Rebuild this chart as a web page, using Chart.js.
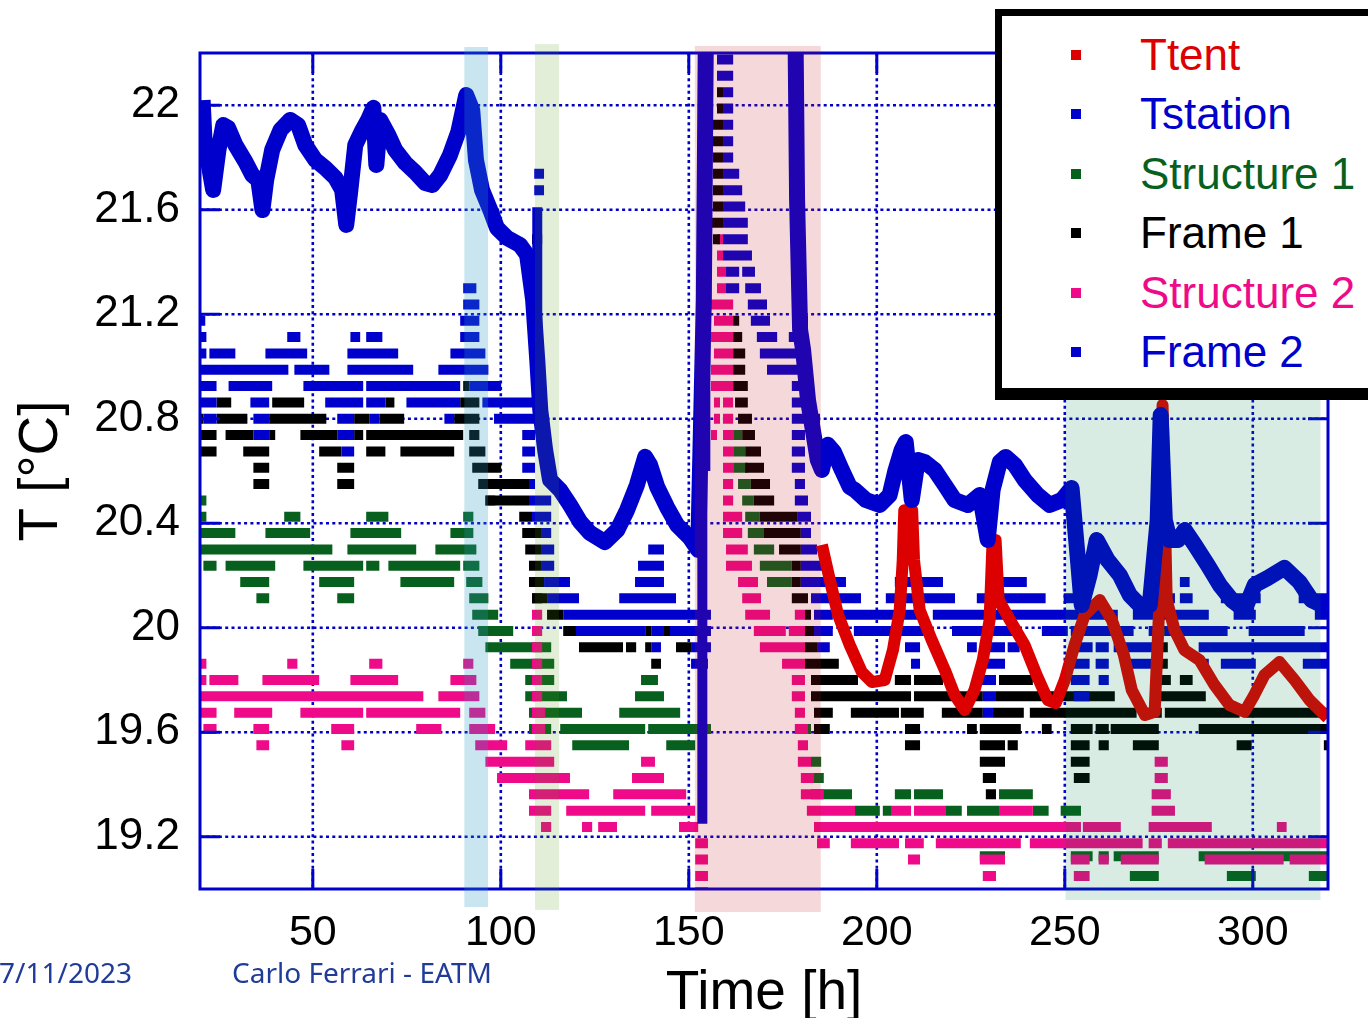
<!DOCTYPE html>
<html>
<head>
<meta charset="utf-8">
<title>T [°C] vs Time [h]</title>
<script src="https://cdn.jsdelivr.net/npm/chart.js@4.4.1/dist/chart.umd.min.js"></script>
<style>
  html, body { margin: 0; padding: 0; background: #fff; overflow: hidden; }
  #wrap { position: relative; width: 1368px; height: 1018px; overflow: hidden; }
  #chart { position: absolute; left: 0; top: 0; }
  #legend { position: absolute; left: 995px; top: 9px; width: 420px; height: 372px; background: #fff;
            border: 7px solid #000; border-bottom-width: 12px; }
  .entry { position: absolute; left: 0; height: 44px; line-height: 44px; white-space: nowrap;
           font: 44px 'Liberation Sans', Arial, sans-serif; }
  .entry i { position: absolute; left: 69px; top: 20px; width: 10px; height: 10px; }
  .entry span { position: absolute; left: 138px; top: 0; }
  .foot { position: absolute; top: 958px; font: 28px 'Noto Sans', sans-serif; line-height: 28px;
          color: #203c98; white-space: nowrap; }
</style>
</head>
<body>
<div id="wrap">
  <canvas id="chart" width="1368" height="1018"></canvas>
  <div id="legend"></div>
  <div class="foot" style="left:-1px">7/11/2023</div>
  <div class="foot" style="left:232px">Carlo Ferrari - EATM</div>
</div>
<script>
// axis ticks
const xTicks = [50, 100, 150, 200, 250, 300];
const yTicks = [19.2, 19.6, 20, 20.4, 20.8, 21.2, 21.6, 22];

const seriesNames = ['Ttent', 'Tstation', 'Structure 1', 'Frame 1', 'Structure 2', 'Frame 2'];
const seriesColors = ['#dd0000', '#0000cc', '#08601e', '#000000', '#ee0a88', '#0000cc'];

// [time h, temperature]
const ttent = [
  [185.4,20.317],[187.5,20.183],[189.7,20.049],[192.8,19.934],[196.0,19.831],[198.7,19.792],
  [202.1,19.80],[204.3,19.915],[206.1,20.068],[206.9,20.259],[207.3,20.45],[209.4,20.45],
  [209.9,20.259],[211.4,20.068],[214.6,19.953],[218.1,19.838],[220.7,19.743],[223.4,19.685],
  [226.0,19.762],[228.2,19.877],[230.0,20.03],[230.8,20.336],[231.6,20.336],[232.4,20.106],[235.4,20.03],
  [239.3,19.934],[242.5,19.819],[245.5,19.723],[247.6,19.712],[250.0,19.80],[252.6,19.934],
  [255.3,20.049],[259.3,20.106],[262.5,20.03],[265.7,19.896],[267.8,19.762],[271.3,19.666],
  [273.9,19.678],[275.2,20.106],[276.0,20.853],[277.1,20.106],[279.2,19.991],[281.8,19.915],
  [285.8,19.877],[289.8,19.781],[293.8,19.704],[297.8,19.678],[300.4,19.743],[303.1,19.819],
  [307.1,19.869],[311.1,19.80],[315.1,19.723],[319.9,19.655]
];

const tstation = [
  [20.7,22.02],[21.2,21.867],[22.8,21.733],[23.5,21.676],[24.9,21.829],[26.2,21.924],[27.5,21.913],
  [29.4,21.848],[32.1,21.783],[33.9,21.733],[35.5,21.714],[36.6,21.599],[37.6,21.714],[39.2,21.829],
  [41.4,21.905],[44.0,21.944],[46.1,21.924],[48.0,21.848],[50.7,21.790],[53.3,21.76],[56.0,21.722],
  [57.8,21.676],[58.9,21.542],[60.0,21.676],[61.3,21.848],[63.2,21.905],[64.7,21.944],[66.1,21.99],
  [66.9,21.771],[67.9,21.944],[70.1,21.886],[71.9,21.829],[74.6,21.779],[77.2,21.744],[79.9,21.702],
  [81.8,21.695],[83.9,21.733],[86.5,21.810],[88.7,21.898],[90.8,22.039],[92.4,21.982],[93.4,21.79],
  [95.0,21.676],[97.2,21.599],[99.0,21.530],[101.7,21.492],[105.1,21.465],[107.0,21.427],
  [108.6,21.255],[109.7,21.025],[110.5,20.833],[111.8,20.68],[113.1,20.566],[115.8,20.527],
  [118.4,20.47],[121.1,20.405],[123.7,20.363],[127.7,20.328],[131.0,20.374],[133.6,20.451],
  [136.2,20.546],[138.4,20.654],[139.7,20.623],[141.6,20.539],[144.2,20.462],[146.9,20.393],
  [150.3,20.344],[152.5,20.298],[154.0,21.255],[154.6,22.4],[178.3,22.4],[178.8,21.637],
  [179.6,21.14],[180.4,21.063],[181.7,20.872],[183.0,20.757],[184.3,20.642],[185.4,20.604],
  [187.0,20.70],[188.6,20.673],[190.7,20.604],[192.8,20.539],[194.2,20.527],[197.1,20.489],
  [200.8,20.47],[203.4,20.508],[205.0,20.604],[206.6,20.68],[207.7,20.711],[209.3,20.489],
  [210.9,20.642],[212.8,20.634],[215.4,20.604],[218.1,20.546],[220.7,20.489],[224.2,20.47],
  [227.4,20.508],[229.5,20.336],[230.8,20.527],[232.7,20.634],[234.3,20.654],[236.7,20.623],
  [239.3,20.566],[242.8,20.508],[246.0,20.47],[249.2,20.489],[251.8,20.535],[253.5,20.259],
  [254.5,20.087],[256.6,20.202],[258.5,20.336],[261.4,20.259],[264.6,20.202],[267.3,20.125],
  [269.9,20.087],[272.6,20.087],[274.7,20.412],[275.5,20.814],[276.6,20.412],[277.9,20.336],
  [280.1,20.336],[281.9,20.374],[284.6,20.317],[288.0,20.24],[291.2,20.164],[294.4,20.106],
  [297.8,20.068],[300.5,20.164],[303.9,20.190],[308.4,20.229],[312.4,20.175],[315.6,20.106],
  [319.9,20.076]
];

// sensor groups: [temperature, [start, end, start, end, ...]]
const frame2Rows = [
  [22.175, [157.5,161.8]],
  [22.1125, [157.5,161.8]],
  [22.05, [159.1,161.8]],
  [21.9875, [159.1,161.8]],
  [21.925, [159.1,161.8]],
  [21.8625, [159.1,161.8]],
  [21.8, [159.1,161.8]],
  [21.7375, [108.9,111.5, 159.1,163.4]],
  [21.675, [108.9,111.5, 159.1,164.2]],
  [21.6125, [159.1,165.0]],
  [21.55, [159.1,165.7]],
  [21.4875, [159.1,165.7]],
  [21.425, [159.1,166.8]],
  [21.3625, [159.9,163.4, 164.2,167.6]],
  [21.3, [90.0,93.5, 159.9,163.4, 165.0,169.2]],
  [21.2375, [90.0,94.3, 165.7,170.8]],
  [21.175, [19.3,21.4, 89.2,94.3, 166.5,171.6, 178.2,181.7]],
  [21.1125, [19.0,21.7, 43.2,46.7, 60.0,62.6, 64.2,68.5, 89.2,94.3, 168.1,173.5, 176.6,181.7]],
  [21.05, [19.0,21.7, 22.5,29.4, 37.4,48.5, 59.2,72.7, 86.6,95.9, 168.9,179.0]],
  [20.9875, [19.3,43.5, 45.1,54.4, 59.2,76.7, 83.4,96.7, 170.8,182.5]],
  [20.925, [19.3,24.4, 27.6,39.2, 47.5,63.4, 64.2,89.2, 91.6,100.1, 177.4,182.5]],
  [20.8625, [20.1,24.4, 33.4,38.4, 53.3,63.4, 64.2,69.3, 74.9,89.2, 95.1,109.1, 177.4,183.3]],
  [20.8, [20.9,24.4, 34.2,38.4, 56.5,61.0, 65.0,67.7, 85.0,87.6, 98.2,109.1, 177.4,184.9]],
  [20.7375, [34.2,38.4, 56.5,61.0, 105.7,109.1, 177.4,180.9]],
  [20.675, [57.6,61.0, 105.7,109.1, 177.4,180.9]],
  [20.6125, [105.7,109.1, 177.4,180.9]],
  [20.55, [107.5,109.1, 178.2,180.9]],
  [20.4875, [107.5,113.4, 178.2,181.7]],
  [20.425, [108.3,113.4, 179.0,182.5]],
  [20.3625, [110.7,113.4, 179.8,182.5]],
  [20.3, [110.7,114.2, 139.2,143.4, 179.8,184.1]],
  [20.2375, [110.7,114.2, 136.5,143.4, 179.8,185.9]],
  [20.175, [111.5,118.4, 135.7,143.4, 179.8,191.8, 204.8,209.1, 209.9,217.6, 232.5,239.9, 274.7,278.2, 280.6,283.2]],
  [20.1125, [112.3,120.8, 131.5,146.6, 182.5,195.8, 202.4,220.8, 226.6,244.9, 249.7,256.4, 274.7,279.3, 280.6,284.0, 291.5,302.1, 312.2,321.5]],
  [20.05, [116.6,155.9, 183.3,188.3, 190.7,212.5, 214.9,254.3, 255.6,264.1, 268.1,288.3, 294.9,300.8, 316.5,321.5]],
  [19.9875, [120.0,138.4, 140.0,143.4, 145.0,155.9, 183.3,188.3, 193.9,204.3, 206.4,212.5, 220.0,238.0, 243.9,250.8, 251.6,268.3, 272.3,275.0, 276.6,293.3, 298.9,313.8]],
  [19.925, [140.0,142.6, 150.6,155.9, 184.1,187.5, 207.5,211.5, 224.0,226.6, 227.4,234.1, 234.8,238.0, 251.6,257.4, 258.2,261.7, 263.0,275.0, 285.6,321.5]],
  [19.8625, [150.6,155.1, 209.1,211.5, 227.4,234.1, 251.6,256.6, 258.2,261.7, 267.3,275.0, 285.6,288.3, 291.5,300.8, 313.3,321.5]],
  [19.8, [227.4,231.7, 251.6,256.6, 259.0,261.7]],
  [19.7375, [228.2,231.7, 252.4,256.6]],
  [19.675, [228.2,230.9]]
];
// fast vertical runs: [time, from, to]
const frame2Cols = [[109.7, 21.61, 21.1], [154.4, 22.3, 20.6], [153.6, 20.6, 19.25]];

const frame1Rows = [
  [22.05, [157.5,159.1]],
  [21.9875, [157.5,159.1]],
  [21.925, [156.4,159.1]],
  [21.8625, [156.4,159.1]],
  [21.8, [156.4,159.1]],
  [21.7375, [156.4,159.1]],
  [21.675, [156.4,159.1]],
  [21.6125, [156.4,159.1]],
  [21.55, [153.8,159.1]],
  [21.4875, [108.3,111.0, 156.4,158.3]],
  [21.175, [161.8,163.4]],
  [21.1125, [161.8,164.2]],
  [21.05, [161.8,165.0]],
  [20.9875, [161.8,165.0]],
  [20.925, [90.0,91.6, 161.8,165.7]],
  [20.8625, [19.3,20.1, 24.4,28.3, 39.2,47.7, 69.3,71.7, 89.2,94.3, 162.3,165.7]],
  [20.8, [19.3,20.9, 24.4,32.6, 38.4,53.6, 61.0,65.0, 67.7,74.3, 87.6,94.3, 163.1,166.8]],
  [20.7375, [20.1,24.4, 26.8,34.2, 38.4,40.0, 46.7,56.5, 61.0,63.4, 64.2,90.0, 91.6,94.3, 164.2,167.6]],
  [20.675, [20.1,24.4, 31.5,38.4, 51.7,57.6, 64.2,69.3, 73.3,87.6, 91.6,95.9, 165.0,169.2]],
  [20.6125, [34.2,38.4, 56.5,61.0, 92.4,100.1, 165.0,170.0]],
  [20.55, [34.2,38.4, 56.5,61.0, 94.0,107.5, 166.5,171.6]],
  [20.4875, [95.9,107.5, 167.3,172.7]],
  [20.425, [104.9,108.3, 168.9,179.0]],
  [20.3625, [105.7,110.7, 170.0,179.8]],
  [20.3, [106.5,110.7, 174.0,179.8]],
  [20.2375, [107.5,110.7, 177.4,179.8]],
  [20.175, [107.5,111.5, 177.4,179.8]],
  [20.1125, [108.3,112.3, 177.4,181.7]],
  [20.05, [112.3,116.6, 180.9,182.5]],
  [19.9875, [116.6,120.0, 138.4,140.0, 143.4,145.0, 180.9,183.3, 275.0,276.6]],
  [19.925, [120.8,132.5, 133.3,136.0, 138.4,140.0, 146.6,150.6, 180.9,184.1, 275.0,277.4]],
  [19.8625, [140.0,142.6, 180.9,189.9, 275.0,277.4]],
  [19.8, [182.5,195.0, 204.8,209.1, 209.9,217.6, 232.5,241.5, 273.1,278.2, 280.6,284.0]],
  [19.7375, [182.5,209.1, 209.9,228.2, 231.7,247.6, 248.1,263.3, 273.1,287.5]],
  [19.675, [183.3,188.3, 193.1,205.9, 206.4,212.5, 217.3,228.2, 230.9,239.1, 240.7,269.1, 272.3,275.8, 276.6,296.5, 298.1,319.9]],
  [19.6125, [183.3,187.5, 207.5,211.5, 224.0,226.6, 227.4,238.3, 243.9,246.5, 251.6,257.4, 258.2,261.7, 262.2,275.0, 285.6,321.5]],
  [19.55, [207.5,211.5, 227.4,234.1, 234.8,237.5, 251.6,256.6, 259.0,261.7, 268.1,275.0, 295.7,299.7, 318.9,321.5]],
  [19.4875, [227.4,234.1, 251.6,256.6]],
  [19.425, [228.2,231.7, 252.4,256.6]],
  [19.3625, [229.0,231.7]]
];

const structure1Rows = [
  [20.7375, [161.8,164.2]],
  [20.675, [161.8,165.0]],
  [20.6125, [161.8,165.7]],
  [20.55, [163.1,166.5]],
  [20.4875, [19.0,21.7, 95.9,98.5, 164.2,167.3]],
  [20.425, [19.0,21.7, 42.4,46.7, 64.2,70.1, 90.0,92.7, 165.0,168.9]],
  [20.3625, [19.0,29.4, 37.4,49.3, 60.0,73.5, 86.6,92.7, 165.7,170.8]],
  [20.3, [20.1,55.2, 59.2,77.5, 82.6,93.5, 167.3,172.7]],
  [20.2375, [20.9,24.4, 26.8,40.0, 47.5,63.4, 64.2,67.7, 70.1,89.2, 90.0,94.3, 168.9,177.4]],
  [20.175, [30.7,38.4, 51.7,61.0, 73.3,87.6, 90.8,95.1, 170.8,177.4]],
  [20.1125, [35.0,38.4, 56.5,61.0, 91.6,96.7, 108.3,111.0]],
  [20.05, [92.4,99.3]],
  [19.9875, [94.0,103.3]],
  [19.925, [95.9,113.4]],
  [19.8625, [102.5,114.2]],
  [19.8, [106.5,114.2, 137.3,141.8]],
  [19.7375, [106.5,117.6, 135.7,143.4]],
  [19.675, [107.5,121.6, 131.5,147.7]],
  [19.6125, [107.5,113.4, 115.8,138.4, 139.2,155.9, 179.0,182.5]],
  [19.55, [119.0,134.1, 144.0,151.7]],
  [19.4875, [182.5,185.2]],
  [19.425, [183.3,185.9]],
  [19.3625, [182.5,193.4, 204.8,209.1, 209.9,217.6, 232.5,241.5]],
  [19.3, [194.2,200.8, 201.6,204.0, 218.4,222.6, 224.0,232.5, 241.5,245.7, 248.9,254.3]],
  [19.125, [227.4,234.1, 251.6,257.4, 259.0,261.7, 263.0,275.0, 285.6,321.5]],
  [19.05, [267.3,275.0, 293.1,300.8, 314.9,321.5]]
];

const structure2Rows = [
  [21.4875, [157.5,159.1]],
  [21.425, [157.5,159.1]],
  [21.3625, [157.5,159.9]],
  [21.3, [157.5,159.9]],
  [21.2375, [154.1,161.8]],
  [21.175, [156.7,161.8]],
  [21.1125, [155.9,161.8]],
  [21.05, [156.7,161.8]],
  [20.9875, [155.9,161.8]],
  [20.925, [155.9,161.8]],
  [20.8625, [156.7,158.3, 159.1,161.8]],
  [20.8, [156.7,158.3, 159.1,161.8]],
  [20.7375, [155.9,157.5, 159.1,161.8]],
  [20.675, [159.1,161.8]],
  [20.6125, [159.1,161.8]],
  [20.55, [159.1,161.8]],
  [20.4875, [159.1,161.8]],
  [20.425, [159.1,164.2]],
  [20.3625, [159.1,164.2]],
  [20.3, [159.9,165.7]],
  [20.2375, [159.9,166.8]],
  [20.175, [163.1,168.4]],
  [20.1125, [108.3,111.0, 164.2,169.2]],
  [20.05, [108.3,111.0, 165.0,171.6, 178.2,180.9]],
  [19.9875, [108.3,111.0, 167.3,175.8, 176.6,180.9]],
  [19.925, [108.3,111.0, 168.9,180.9]],
  [19.8625, [19.0,21.7, 43.2,45.9, 65.0,68.5, 90.0,92.7, 108.3,111.0, 174.8,180.9]],
  [19.8, [19.0,21.7, 22.5,30.2, 36.6,51.7, 60.0,72.7, 86.6,93.5, 108.3,111.0, 177.4,180.9]],
  [19.7375, [19.0,79.4, 83.4,94.3, 108.3,111.0, 177.4,180.9]],
  [19.675, [20.1,24.4, 29.1,39.2, 46.7,63.4, 64.2,89.2, 91.6,95.9, 108.3,111.8, 178.2,180.9]],
  [19.6125, [20.9,24.4, 34.2,38.4, 54.9,61.0, 77.5,84.2, 91.6,98.5, 108.3,111.8, 178.2,181.7]],
  [19.55, [35.0,38.4, 57.6,61.0, 93.2,101.7, 106.5,113.4, 179.0,181.7]],
  [19.4875, [95.9,114.2, 137.3,141.0, 179.0,182.5, 273.9,277.4]],
  [19.425, [99.0,118.4, 134.9,143.4, 179.8,183.3, 273.9,277.4]],
  [19.3625, [107.5,123.5, 129.9,149.3, 179.8,185.9, 273.1,278.2]],
  [19.3, [107.5,113.4, 117.4,138.4, 140.0,151.7, 181.4,194.2, 204.0,209.1, 209.9,218.4, 232.5,241.5, 273.1,279.3]],
  [19.2375, [110.7,113.4, 121.6,124.3, 125.9,130.9, 147.4,152.5, 183.3,254.3, 254.8,264.9, 272.3,289.1, 306.4,309.0]],
  [19.175, [151.7,155.1, 184.1,187.5, 193.1,205.9, 207.5,212.5, 215.7,238.3, 240.7,270.7, 272.3,275.8, 277.4,319.9]],
  [19.1125, [151.7,155.1, 208.3,211.5, 227.4,234.1, 251.6,256.6, 259.0,261.7, 264.9,275.0, 287.2,308.2, 309.8,321.5]],
  [19.05, [151.7,155.1, 228.2,231.7, 252.4,256.6]],
  [18.9875, [151.7,155.1]]
];

// shaded periods
const bandStart = [90.3, 109.1, 151.6, 250.2];
const bandEnd = [96.6, 115.5, 185.1, 318.0];
const bandTop = [22.223, 22.234, 22.227, 20.902];
const bandBottom = [18.931, 18.92, 18.912, 18.958];
const bandColors = ['rgba(39,157,196,0.25)', 'rgba(74,149,11,0.16)', 'rgba(194,25,31,0.165)', 'rgba(2,128,68,0.15)'];

const FONT = "'Liberation Sans', Arial, sans-serif";
const AXIS_BLUE = '#0000cc';

function pairsToPoints(pairs) {
  return pairs.map(([t, v]) => ({x: t, y: v}));
}

function rowsToPoints(rows, cols) {
  const pts = [];
  rows.forEach(([v, spans]) => {
    for (let i = 0; i < spans.length; i += 2) {
      pts.push({x: spans[i], y: v}, {x: spans[i + 1], y: v}, {x: spans[i + 1], y: null});
    }
  });
  (cols || []).forEach(([t, v0, v1]) => {
    pts.push({x: t, y: v0}, {x: t, y: v1}, {x: t, y: null});
  });
  return pts;
}

// dotted grid under the data, frame, inner ticks and shaded periods over it
const framePlugin = {
  id: 'frame',
  beforeDatasetsDraw(chart) {
    const {ctx, chartArea: a, scales: {x, y}} = chart;
    ctx.save();
    ctx.strokeStyle = AXIS_BLUE;
    ctx.lineWidth = 2.6;
    ctx.setLineDash([3, 3.3]);
    xTicks.forEach(v => {
      const px = x.getPixelForValue(v);
      ctx.beginPath(); ctx.moveTo(px, a.top); ctx.lineTo(px, a.bottom); ctx.stroke();
    });
    yTicks.forEach(v => {
      const py = y.getPixelForValue(v);
      ctx.beginPath(); ctx.moveTo(a.left, py); ctx.lineTo(a.right, py); ctx.stroke();
    });
    ctx.restore();
  },
  afterDatasetsDraw(chart) {
    const {ctx, chartArea: a, scales: {x, y}} = chart;
    ctx.save();
    ctx.strokeStyle = AXIS_BLUE;
    ctx.lineWidth = 3;
    ctx.setLineDash([]);
    ctx.strokeRect(a.left, a.top, a.right - a.left, a.bottom - a.top);
    ctx.beginPath();
    xTicks.forEach(v => {
      const px = x.getPixelForValue(v);
      ctx.moveTo(px, a.bottom); ctx.lineTo(px, a.bottom - 20);
      ctx.moveTo(px, a.top); ctx.lineTo(px, a.top + 20);
    });
    yTicks.forEach(v => {
      const py = y.getPixelForValue(v);
      ctx.moveTo(a.left, py); ctx.lineTo(a.left + 20, py);
      ctx.moveTo(a.right, py); ctx.lineTo(a.right - 20, py);
    });
    ctx.stroke();

    bandStart.forEach((t0, i) => {
      const x0 = x.getPixelForValue(t0), x1 = x.getPixelForValue(bandEnd[i]);
      const y0 = y.getPixelForValue(bandTop[i]), y1 = y.getPixelForValue(bandBottom[i]);
      ctx.fillStyle = bandColors[i];
      ctx.fillRect(x0, y0, x1 - x0, y1 - y0);
    });
    ctx.restore();
  }
};

const common = {
  fill: false, pointRadius: 0, tension: 0, borderWidth: 10, spanGaps: false,
  borderCapStyle: 'butt', borderJoinStyle: 'miter', clip: 0
};

new Chart(document.getElementById('chart'), {
  type: 'line',
  data: {
    datasets: [
      {...common, label: 'Ttent', data: pairsToPoints(ttent), borderColor: seriesColors[0],
       borderWidth: 12, borderJoinStyle: 'round', order: 1},
      {...common, label: 'Tstation', data: pairsToPoints(tstation), borderColor: seriesColors[1],
       borderWidth: 16, borderJoinStyle: 'round', order: 0},
      {...common, label: 'Frame 2', data: rowsToPoints(frame2Rows, frame2Cols), borderColor: seriesColors[5], order: 2},
      {...common, label: 'Frame 1', data: rowsToPoints(frame1Rows), borderColor: seriesColors[3], order: 3},
      {...common, label: 'Structure 2', data: rowsToPoints(structure2Rows), borderColor: seriesColors[4], order: 4},
      {...common, label: 'Structure 1', data: rowsToPoints(structure1Rows), borderColor: seriesColors[2], order: 5}
    ]
  },
  options: {
    responsive: false,
    animation: false,
    devicePixelRatio: 1,
    events: [],
    layout: {padding: {left: 0, right: 40, top: 53, bottom: 0}},
    plugins: {legend: {display: false}, tooltip: {enabled: false}},
    scales: {
      x: {
        type: 'linear', min: 20, max: 320,
        afterBuildTicks: s => { s.ticks = xTicks.map(v => ({value: v})); },
        afterFit: s => { s.height = 129; },
        grid: {display: false, drawTicks: false},
        border: {display: false},
        ticks: {color: '#000', font: {family: FONT, size: 43}, padding: 18, autoSkip: false,
                maxRotation: 0, callback: v => String(v)},
        title: {display: true, text: 'Time [h]', color: '#000',
                font: {family: FONT, size: 55, lineHeight: 1}, padding: {top: 0, bottom: -3}}
      },
      y: {
        type: 'linear', min: 19, max: 22.2,
        afterBuildTicks: s => { s.ticks = yTicks.map(v => ({value: v})); },
        afterFit: s => { s.width = 200; },
        grid: {display: false, drawTicks: false},
        border: {display: false},
        ticks: {color: '#000', font: {family: FONT, size: 44}, padding: 20, autoSkip: false,
                callback: v => String(v)},
        title: {display: true, text: 'T [°C]', color: '#000',
                font: {family: FONT, size: 55, lineHeight: 1}, padding: {top: 14, bottom: 0}}
      }
    }
  },
  plugins: [framePlugin]
});

// legend box over the top right corner
const legend = document.getElementById('legend');
seriesNames.forEach((name, i) => {
  const row = document.createElement('div');
  row.className = 'entry';
  row.style.top = (14 + i * 59.4) + 'px';
  row.style.color = seriesColors[i];
  row.innerHTML = '<i style="background:' + seriesColors[i] + '"></i><span>' + name + '</span>';
  legend.appendChild(row);
});
</script>
</body>
</html>
